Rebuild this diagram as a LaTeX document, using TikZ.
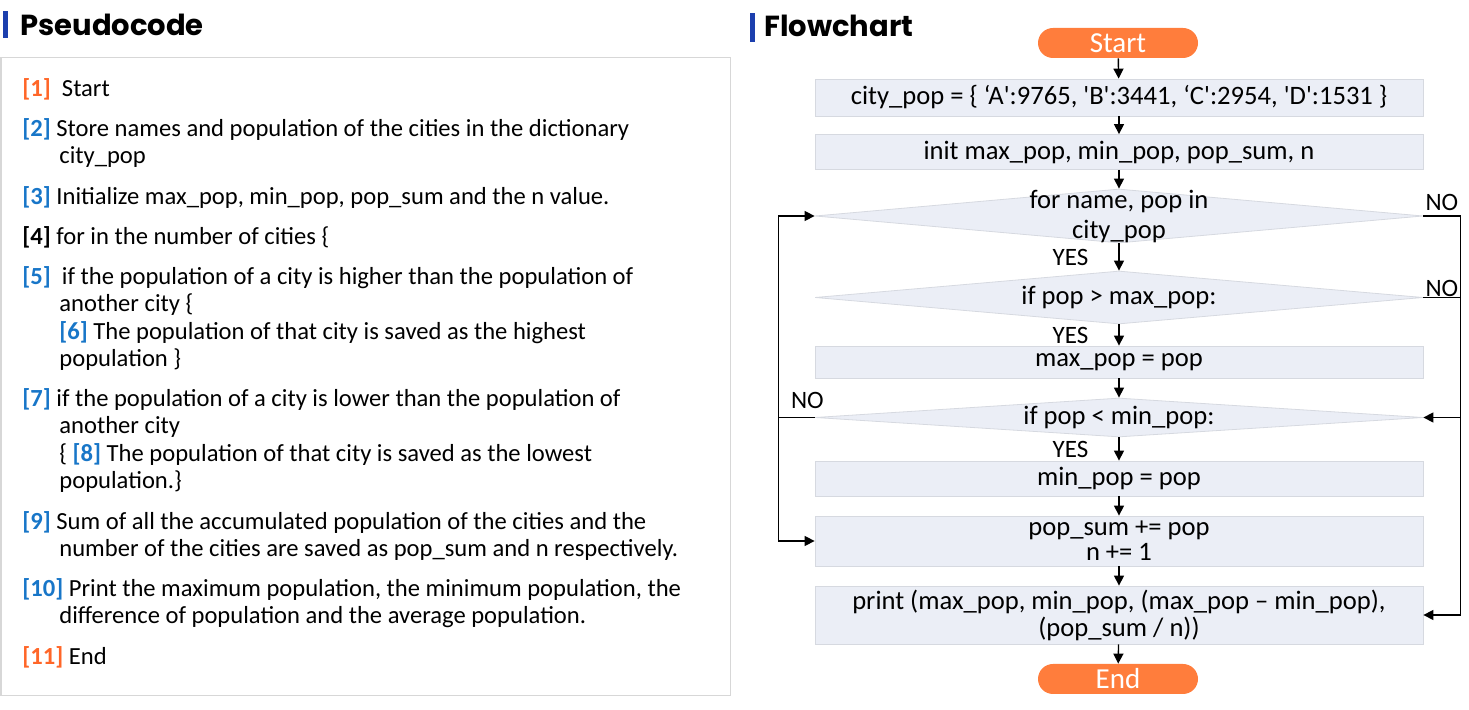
\documentclass[tikz,border=0pt]{standalone}
\usepackage{fontspec}
\setmainfont{Carlito}
\newfontfamily\titlefont{Poppins}
\usetikzlibrary{shapes.geometric, arrows.meta, positioning}
\definecolor{barblue}{RGB}{28, 63, 174}
\definecolor{numblue}{RGB}{24, 118, 200}
\definecolor{numorange}{RGB}{255, 102, 40}
\definecolor{pillorange}{RGB}{255, 125, 60}
\definecolor{boxfill}{RGB}{235, 238, 246}
\definecolor{boxline}{RGB}{214, 217, 224}
\definecolor{paneline}{RGB}{215, 215, 215}
\newcommand{\stepno}[2][numblue]{\textcolor{#1}{\bfseries[#2]}}
\newcommand{\hang}{\hangindent=18.5pt\hangafter=1\relax}
\newcommand{\sq}{\textquotesingle}
\tikzstyle{terminal} = [rectangle, rounded corners=7.5pt, minimum width=80pt, minimum height=15pt,
                        inner sep=0pt, fill=pillorange, text=white, font=\fontsize{14.5}{15}\selectfont]
\tikzstyle{process}  = [rectangle, minimum width=304pt, inner sep=0pt, draw=boxline, fill=boxfill,
                        align=center, font=\fontsize{13.3}{12.5}\selectfont]
\tikzstyle{decision} = [diamond, minimum width=304pt, inner sep=0pt, draw=boxline, fill=boxfill]
\tikzstyle{dtext}    = [align=center, inner sep=0pt, font=\fontsize{13.3}{15}\selectfont]
\tikzstyle{answer}   = [inner sep=1pt, font=\fontsize{12.5}{13}\selectfont]
\tikzstyle{item}     = [anchor=base west, inner sep=0pt, font=\fontsize{12.3}{13.75}\selectfont]
\tikzstyle{heading}  = [anchor=base west, inner sep=0pt, font=\titlefont\bfseries\fontsize{14.5}{16}\selectfont]
\tikzstyle{arrow}    = [-{Triangle[length=5pt, width=5pt]}, line width=0.7pt]

\begin{document}
\begin{tikzpicture}[x=0.5pt, y=-0.5pt]
  \useasboundingbox (0,0) rectangle (1469,710);

  % Pseudocode panel
  \fill[barblue] (3,11) rectangle (8,38);
  \node (pstitle) [heading] at (20,36) {Pseudocode};
  \node (pane) [rectangle, draw=paneline, line width=0.6pt, anchor=north west, inner sep=0pt,
                minimum width=364.75pt, minimum height=319pt] at (0.5,57) {};

  \node (s1)  [item] at (22,96.5)  {\stepno[numorange]{1}\ \ Start};
  \node (s2)  [item] at (22,136.5) {\parbox[t]{350pt}{\hang\stepno{2} Store names and population of the cities in the dictionary\\city\_pop}};
  \node (s3)  [item] at (22,204.5) {\stepno{3} Initialize max\_pop, min\_pop, pop\_sum and the n value.};
  \node (s4)  [item] at (22,244.5) {\stepno[black]{4} for in the number of cities \{};
  \node (s5)  [item] at (22,284.5) {\parbox[t]{350pt}{\hang\stepno{5}\ \ if the population of a city is higher than the population of\\another city \{\\\stepno{6} The population of that city is saved as the highest\\population \}}};
  \node (s7)  [item] at (22,406.5) {\parbox[t]{350pt}{\hang\stepno{7} if the population of a city is lower than the population of\\another city\\\{ \stepno{8} The population of that city is saved as the lowest\\population.\}}};
  \node (s9)  [item] at (22,529.5) {\parbox[t]{350pt}{\hang\stepno{9} Sum of all the accumulated population of the cities and the\\number of the cities are saved as pop\_sum and n respectively.}};
  \node (s10) [item] at (22,596.5) {\parbox[t]{350pt}{\hang\stepno{10} Print the maximum population, the minimum population, the\\difference of population and the average population.}};
  \node (s11) [item] at (22,664.5) {\stepno[numorange]{11} End};

  % Flowchart
  \fill[barblue] (750,13) rectangle (755,42);
  \node (fctitle) [heading] at (764,37) {Flowchart};

  \node (start)  [terminal] at (1118,43) {Start};
  \node (city)   [process, minimum height=18.5pt] at (1119,97.5)
                 {city\_pop = \{ ‘A\sq:9765, \sq B\sq:3441, ‘C\sq:2954, \sq D\sq:1531 \}};
  \node (init)   [process, minimum height=17.5pt] at (1119,152) {init max\_pop, min\_pop, pop\_sum, n};
  \node (loop)   [decision, minimum height=27pt, label={[dtext]center:{for name, pop in\\city\_pop}}]
                 at (1119,216) {};
  \node (maxif)  [decision, minimum height=26.5pt, label={[dtext]center:{if pop > max\_pop:}}]
                 at (1119,297.5) {};
  \node (setmax) [process, minimum height=16pt] at (1119,362) {max\_pop = pop};
  \node (minif)  [decision, minimum height=19.5pt, label={[dtext]center:{if pop < min\_pop:}}]
                 at (1119,417.5) {};
  \node (setmin) [process, minimum height=17.5pt] at (1119,478.5) {min\_pop = pop};
  \node (sum)    [process, minimum height=25pt] at (1119,541) {pop\_sum += pop\\n += 1};
  \node (prt)    [process, minimum height=29pt, font=\fontsize{13.3}{13.5}\selectfont] at (1119,615)
                 {print (max\_pop, min\_pop, (max\_pop – min\_pop),\\(pop\_sum / n))};
  \node (end)    [terminal] at (1118,679) {End};

  \draw [arrow] (start)  -- (city);
  \draw [arrow] (city)   -- (init);
  \draw [arrow] (init)   -- (loop);
  \draw [arrow] (loop)   -- node[answer, left=14pt] {YES} (maxif);
  \draw [arrow] (maxif)  -- node[answer, left=14pt] {YES} (setmax);
  \draw [arrow] (setmax) -- (minif);
  \draw [arrow] (minif)  -- node[answer, left=14pt] {YES} (setmin);
  \draw [arrow] (setmin) -- (sum);
  \draw [arrow] (sum)    -- (prt);
  \draw [arrow] (prt)    -- (end);

  % NO branches
  \draw [arrow] (loop.east)  -- node[answer, above, yshift=1.5pt] {NO} ++(37,0) |- (prt.east);
  \draw [arrow] (maxif.east) -- node[answer, above, inner sep=0pt] {NO} ++(37,0) |- (minif.east);
  \draw [arrow] (minif.west) -- node[answer, above, pos=0.2, yshift=3pt] {NO} ++(-36,0) |- (sum.west);
  \draw [arrow] (minif.west) -- ++(-36,0) |- (loop.west);
\end{tikzpicture}
\end{document}
